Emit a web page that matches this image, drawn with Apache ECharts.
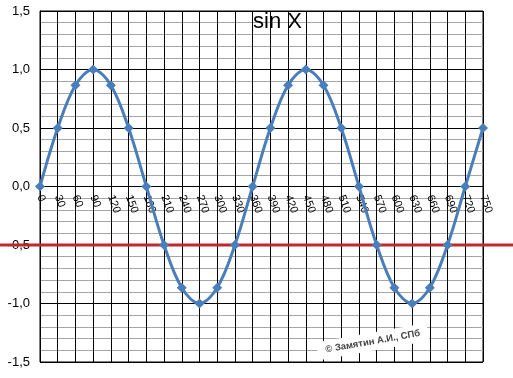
<!DOCTYPE html>
<html>
<head>
<meta charset="utf-8">
<script src="https://cdn.jsdelivr.net/npm/echarts@6/dist/echarts.min.js"></script>
<style>
  html, body { margin: 0; padding: 0; background: #fff; }
  #main { width: 513px; height: 378px; }
</style>
</head>
<body>
<div id="main"></div>
<script>
// углы в градусах и значения sin X
var angles = [0, 30, 60, 90, 120, 150, 180, 210, 240, 270, 300, 330, 360,
              390, 420, 450, 480, 510, 540, 570, 600, 630, 660, 690, 720, 750];
var sinValues = [0, 0.5, 0.866, 1, 0.866, 0.5, 0, -0.5, -0.866, -1, -0.866, -0.5, 0,
                 0.5, 0.866, 1, 0.866, 0.5, 0, -0.5, -0.866, -1, -0.866, -0.5, 0, 0.5];
var levelLine = [-0.5, -0.5];
var yMin = -1.5, yMax = 1.5;
var titleText = 'sin X';
var signText = '\u00A9 Замятин А.И., СПб';

var chart = echarts.init(document.getElementById('main'));

var points = angles.map(function(a, i) { return [a, sinValues[i]]; });

var option = {
    backgroundColor: '#fff',
    animation: false,
    title: {
        text: titleText,
        left: 248,
        top: 6,
        textStyle: { fontFamily: 'Liberation Sans', fontSize: 22, fontWeight: 'normal', color: '#000' }
    },
    grid: [
        { left: 40, right: 30, top: 11, bottom: 16, show: true, borderColor: '#000', borderWidth: 1,
          outerBoundsMode: 'none', containLabel: false },
        { left: 0, right: 0, top: 11, bottom: 16, outerBoundsMode: 'none', containLabel: false }
    ],
    xAxis: [{
        type: 'value',
        gridIndex: 0,
        min: 0,
        max: 750,
        interval: 30,
        position: 'bottom',
        axisLine: { onZero: false, lineStyle: { color: '#000', width: 1 } },
        axisTick: { show: true, inside: false, length: 4, lineStyle: { color: '#000' } },
        axisLabel: {
            rotate: -70,
            fontFamily: 'Liberation Sans',
            fontSize: 11,
            color: '#000',
            margin: 9,
            hideOverlap: false,
            showMaxLabel: true,
            showMinLabel: true
        },
        splitLine: { show: true, lineStyle: { color: '#000', width: 1 } }
    }, {
        type: 'value',
        gridIndex: 1,
        min: 0,
        max: 1,
        show: false
    }],
    yAxis: [{
        type: 'value',
        gridIndex: 0,
        min: yMin,
        max: yMax,
        interval: 0.5,
        axisLine: { show: true, onZero: false, lineStyle: { color: '#000' } },
        axisTick: { show: false },
        axisLabel: {
            fontFamily: 'Liberation Sans',
            fontSize: 13,
            color: '#000',
            margin: 10,
            formatter: function(v) { return v.toFixed(1).replace('.', ','); }
        },
        splitLine: { show: true, lineStyle: { color: '#000', width: 1 } },
        minorTick: { show: false, splitNumber: 5 },
        minorSplitLine: { show: true, lineStyle: { color: '#a6a6a6', width: 1 } }
    }, {
        type: 'value',
        gridIndex: 1,
        min: yMin,
        max: yMax,
        show: false
    }],
    series: [{
        name: 'level',
        type: 'line',
        xAxisIndex: 1,
        yAxisIndex: 1,
        data: [[0, levelLine[0]], [1, levelLine[1]]],
        symbol: 'none',
        lineStyle: { color: '#c0282d', width: 3 },
        z: 1
    }, {
        name: 'sin X',
        type: 'line',
        xAxisIndex: 0,
        yAxisIndex: 0,
        data: points,
        smooth: 0.35,
        symbol: 'diamond',
        symbolSize: 10,
        itemStyle: { color: '#4a7ebb' },
        lineStyle: { color: '#4a7ebb', width: 3 },
        z: 3
    }],
    graphic: [{
        type: 'text',
        left: 316,
        top: 323,
        rotation: 10 * Math.PI / 180,
        z: 10,
        style: {
            text: signText,
            fontFamily: 'Liberation Sans',
            fontSize: 9.5,
            fontWeight: 'bold',
            fill: '#444',
            backgroundColor: '#fff',
            padding: [4, 8]
        }
    }]
};

chart.setOption(option);

// ось X проходит через ноль: сдвигаем её от нижнего края на расстояние до y=0
var bottomPx = chart.convertToPixel({ yAxisIndex: 0 }, yMin);
var zeroPx = chart.convertToPixel({ yAxisIndex: 0 }, 0);
chart.setOption({ xAxis: [{ offset: -(bottomPx - zeroPx) }, {}] });
</script>
</body>
</html>
